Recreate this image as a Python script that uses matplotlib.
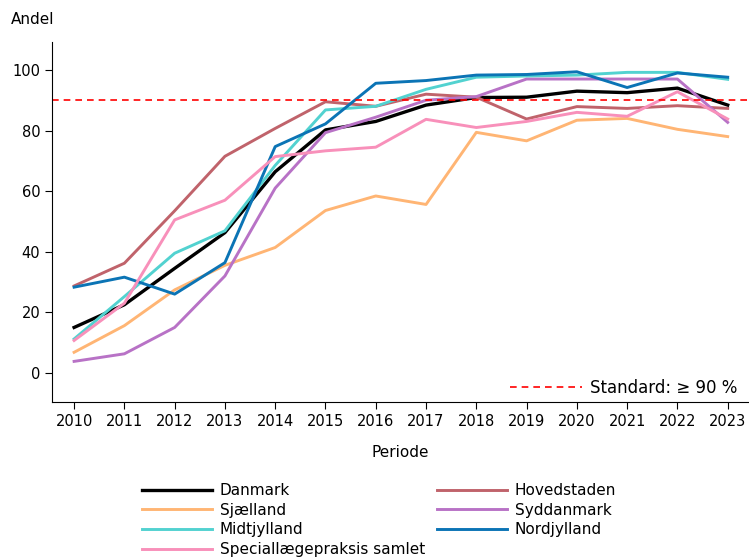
import matplotlib
matplotlib.use("Agg")
import matplotlib.pyplot as plt
from matplotlib.lines import Line2D

years = list(range(2010, 2024))
danmark = [15, 22.5, 34.5, 46.3, 66.4, 80.2, 83, 88.4, 90.9, 91, 93, 92.5, 94, 88.4]
hovedstaden = [28.7, 36.2, 53.5, 71.5, 80.7, 89.5, 88, 92, 91, 83.8, 87.9, 87.3, 88.2, 87.3]
sjaelland = [6.8, 15.6, 27.4, 35.5, 41.4, 53.6, 58.4, 55.6, 79.4, 76.6, 83.4, 84, 80.4, 78]
midtjylland = [11.2, 25.2, 39.5, 46.9, 68.5, 86.8, 88, 93.6, 97.6, 98, 98.3, 99.2, 99.2, 96.9]
syddanmark = [3.8, 6.3, 15, 32, 61, 79.3, 84.4, 90, 91.2, 97, 97, 97, 97, 82.7]
nordjylland = [28.3, 31.6, 26, 36.4, 74.7, 82.2, 95.6, 96.5, 98.3, 98.5, 99.4, 94.2, 99, 97.6]
specialpraksis = [10.7, 23, 50.5, 57, 71.4, 73.3, 74.5, 83.7, 81, 83, 86, 84.7, 92.8, 83.8]
standard = 90

series = [
    ("Danmark", danmark, "#000000"),
    ("Hovedstaden", hovedstaden, "#c0636b"),
    ("Sjælland", sjaelland, "#ffb574"),
    ("Syddanmark", syddanmark, "#b872c6"),
    ("Midtjylland", midtjylland, "#52d2d0"),
    ("Nordjylland", nordjylland, "#0b74b5"),
    ("Speciallægepraksis samlet", specialpraksis, "#f890ba"),
]

fig = plt.figure(figsize=(7.49, 5.58), dpi=100)
ax = fig.add_axes([0.0694, 0.2796, 0.929, 0.645])

handles = {}
for name, vals, col in series:
    lw = 2.4 if name == "Danmark" else 2.1
    ln, = ax.plot(years, vals, color=col, lw=lw, label=name)
    handles[name] = ln

ax.axhline(standard, color="red", ls=(0, (4, 3)), lw=1.2)

ax.set_xlim(2009.56, 2023.4)
ax.set_ylim(-9.6, 109.2)
ax.set_xticks(years)
ax.set_yticks([0, 20, 40, 60, 80, 100])
ax.tick_params(labelsize=10.5, length=5)
for s in ["top", "right"]:
    ax.spines[s].set_visible(False)
ax.set_xlabel("Periode", fontsize=11, labelpad=12)
fig.text(0.014, 0.952, "Andel", fontsize=11, ha="left", va="bottom")

# standard legend in the plot
ax.legend([Line2D([0], [0], color="red", ls=(0, (4, 3)), lw=1.2)],
          ["Standard: ≥ 90 %"], loc="lower right", frameon=False,
          fontsize=12, handlelength=4.3, handletextpad=0.5,
          borderaxespad=0.0, bbox_to_anchor=(0.995, -0.005))

# series legend below the plot
order = ["Danmark", "Sjælland", "Midtjylland", "Speciallægepraksis samlet",
         "Hovedstaden", "Syddanmark", "Nordjylland"]
fig.legend([handles[n] for n in order], order, ncol=2, frameon=False,
           fontsize=11, loc="upper left", bbox_to_anchor=(0.181, 0.145),
           handlelength=4.6, labelspacing=0.3, columnspacing=0.8,
           handletextpad=0.5, borderaxespad=0)

fig.savefig("out.png", dpi=100)
